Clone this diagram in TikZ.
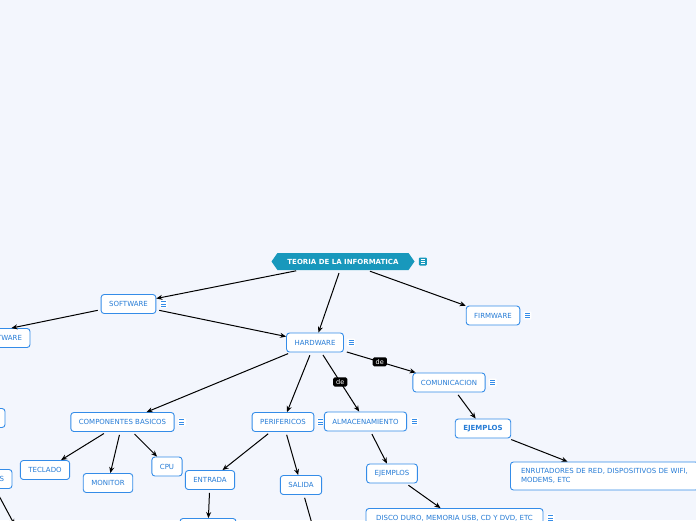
\documentclass[tikz,border=0pt]{standalone}
\usepackage{fontspec}
\setmainfont{DejaVu Sans}
\usepackage{xcolor}
\usetikzlibrary{positioning,shapes.symbols,arrows.meta}

\definecolor{bgpaper}{RGB}{243,246,253}
\definecolor{nodeline}{RGB}{52,140,232}
\definecolor{nodetext}{RGB}{38,124,214}
\definecolor{rootteal}{RGB}{24,152,188}

\begin{document}
\begin{tikzpicture}[
    x=1pt, y=-1pt,
    font=\fontsize{7}{9}\selectfont,
    topic/.style={
        draw=nodeline,
        fill=white,
        line width=0.9pt,
        rounded corners=3pt,
        text=nodetext,
        inner xsep=8pt,
        inner ysep=0pt,
        minimum height=19pt
    },
    hub/.style={
        signal,
        signal to=west and east,
        signal pointer angle=110,
        fill=rootteal,
        text=white,
        font=\fontsize{7}{8}\selectfont\bfseries,
        minimum width=143pt,
        minimum height=17pt,
        inner sep=1pt
    },
    menu/.style={
        fill=#1,
        minimum size=8pt,
        inner sep=0pt,
        rounded corners=1pt,
        path picture={
            \foreach \dy in {-2.2,0,2.2}
                \draw[line width=0.9pt, draw=menuline]
                    ([xshift=-2.4pt,yshift=\dy pt]path picture bounding box.center)
                    -- ([xshift=2.4pt,yshift=\dy pt]path picture bounding box.center);
        }
    },
    menu/.default=white,
    rel/.style={
        fill=black,
        text=white,
        rounded corners=1.5pt,
        inner xsep=3pt,
        inner ysep=2pt,
        font=\fontsize{6.5}{7}\selectfont
    },
    arr/.style={-{Stealth[length=6pt,width=5pt]}, line width=1pt, shorten <=3pt}
]
\colorlet{menuline}{nodeline}
\useasboundingbox (0,0) rectangle (696,520);
\fill[bgpaper] (0,0) rectangle (696,520);
\clip (0,0) rectangle (696,520);

% central topic
\node[hub] (teoria) at (343,261.5) {TEORIA DE LA INFORMATICA};
\begin{scope}
\colorlet{menuline}{white}
\node[menu=rootteal, right=4pt of teoria] (teoriamenu) {};
\end{scope}

% first level
\node[topic] (software) at (128.5,304) {SOFTWARE};
\node[menu, right=3pt of software] (softwaremenu) {};
\node[topic] (hardware) at (315,342.5) {HARDWARE};
\node[menu, right=3pt of hardware] (hardwaremenu) {};
\node[topic] (firmware) at (493,315.5) {FIRMWARE};
\node[menu, right=3pt of firmware] (firmwaremenu) {};

% software branch (mostly off the page)
\node[topic, text width=118pt, align=right] (tipos) at (-37,338) {SOFTWARE};
\node[topic, minimum width=60pt] (softa) at (-25,418) {};
\node[topic, text width=28pt, align=right] (softb) at (-10,479) {S};
\node[topic, minimum width=40pt] (softbhijo) at (20,535) {};

% hardware branch
\node[topic] (componentes) at (122.5,422) {COMPONENTES BASICOS};
\node[menu, right=3pt of componentes] (componentesmenu) {};
\node[topic] (perifericos) at (283,422) {PERIFERICOS};
\node[menu, right=2pt of perifericos] (perifericosmenu) {};
\node[topic] (almacen) at (365.5,421.5) {ALMACENAMIENTO};
\node[menu, right=3pt of almacen] (almacenmenu) {};
\node[topic] (comunicacion) at (449,382.5) {COMUNICACION};
\node[menu, right=3pt of comunicacion] (comunicacionmenu) {};

\node[topic] (teclado) at (45,470) {TECLADO};
\node[topic] (monitor) at (108,483) {MONITOR};
\node[topic] (cpu) at (167,466.5) {CPU};

\node[topic] (entrada) at (210,480) {ENTRADA};
\node[topic] (salida) at (301,485) {SALIDA};
\node[topic, minimum width=56pt] (entradahijo) at (208,528) {};
\node[topic, minimum width=50pt] (salidahijo) at (318,545) {};

\node[topic] (ejalm) at (392,473.5) {EJEMPLOS};
\node[topic, minimum width=177pt] (disco) at (454.5,518) {DISCO DURO, MEMORIA USB, CD Y DVD, ETC};
\node[menu, right=3pt of disco] (discomenu) {};

\node[topic, font=\fontsize{7}{9}\selectfont\bfseries] (ejcom) at (483,428.5) {EJEMPLOS};
\node[topic, align=left, minimum height=28pt, minimum width=188pt, anchor=west] (redes) at (510,476)
    {ENRUTADORES DE RED, DISPOSITIVOS DE WIFI,\\MODEMS, ETC};

% connectors
\draw[arr] (teoria) -- (software);
\draw[arr] (teoria) -- (hardware);
\draw[arr] (teoria) -- (firmware);
\draw[arr] (software) -- (tipos);
\draw[arr] (software) -- (hardware);
\draw[arr] (softb) -- (softbhijo);

\draw[arr] (hardware) -- (componentes);
\draw[arr] (hardware) -- (perifericos);
\draw[arr] (hardware) -- node[rel] (dealm) {de} (almacen);
\draw[arr] (hardware) -- node[rel] (decom) {de} (comunicacion);

\draw[arr] (componentes) -- (teclado);
\draw[arr] (componentes) -- (monitor);
\draw[arr] (componentes) -- (cpu);
\draw[arr] (perifericos) -- (entrada);
\draw[arr] (perifericos) -- (salida);
\draw[arr] (entrada) -- (entradahijo);
\draw[arr] (salida) -- (salidahijo);
\draw[arr] (almacen) -- (ejalm);
\draw[arr] (ejalm) -- (disco);
\draw[arr] (comunicacion) -- (ejcom);
\draw[arr] (ejcom) -- (redes);

\end{tikzpicture}
\end{document}
